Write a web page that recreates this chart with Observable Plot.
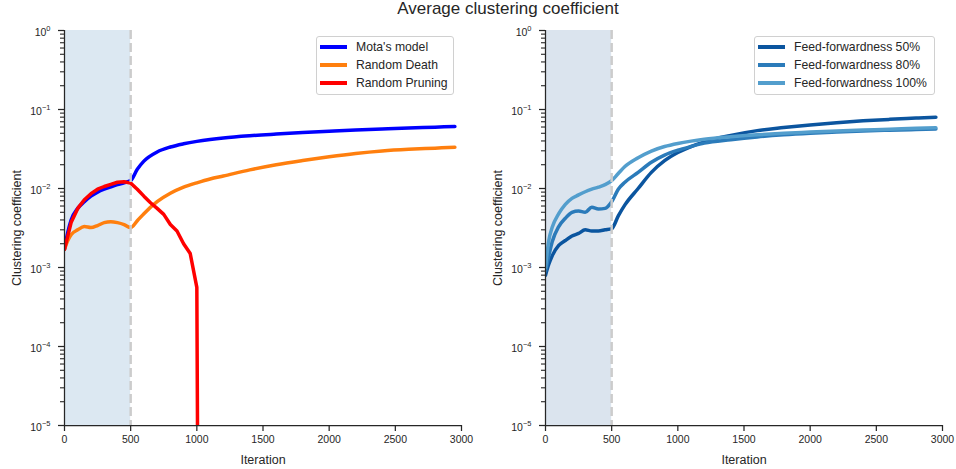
<!DOCTYPE html>
<html>
<head>
<meta charset="utf-8">
<script src="https://cdn.jsdelivr.net/npm/d3@7"></script>
<script src="https://cdn.jsdelivr.net/npm/@observablehq/plot@0.6"></script>
<style>
  html, body { margin: 0; padding: 0; background: #fff; overflow: hidden; }
  body { font-family: "Liberation Sans", Arial, sans-serif; color: #262626; }
  #wrap { position: relative; width: 956px; height: 469px; }
  #title { position: absolute; left: 258px; top: -1px; width: 500px; text-align: center; font-size: 17px; line-height: 20px; }
  #row { position: absolute; left: 0; top: 20px; display: flex; }
  .legend { position: absolute; top: 36px; height: 56px; padding-top: 1px; border: 1px solid #d0d0d0; border-radius: 3px; background: rgba(255,255,255,0.85); box-sizing: content-box; }
  .legend .item { height: 18px; display: flex; align-items: center; font-size: 12.2px; white-space: nowrap; }
  .legend .swatch { width: 27px; height: 3.5px; margin-left: 3px; margin-right: 9px; }
</style>
</head>
<body>
<div id="wrap">
  <div id="title">Average clustering coefficient</div>
  <div id="row"></div>
</div>
<script>
// ---------- data ----------
const titleText = "Average clustering coefficient";
const xLabel = "Iteration";
const yLabel = "Clustering coefficient";
const xDomain = [0, 3000];
const yDomain = [1e-5, 1];
const xTicks = [0, 500, 1000, 1500, 2000, 2500, 3000];
const yMajorTicks = [1e-5, 1e-4, 1e-3, 1e-2, 1e-1, 1];
const trainingPhase = [0, 500];

const iters = [0, 25, 50, 100, 150, 200, 250, 300, 350, 400, 450, 500, 550, 600, 700, 800, 900, 1000, 1100, 1200, 1400, 1600, 1800, 2000, 2200, 2400, 2600, 2800, 2950];

// left panel
const leftNames = ["Mota's model", "Random Death", "Random Pruning"];
const leftColors = ["#0000ff", "#ff7f0e", "#ff0000"];
const motaModel = [0.0017, 0.0028, 0.0040, 0.0056, 0.0068, 0.0080, 0.0090, 0.0098, 0.0105, 0.0112, 0.0118, 0.0126, 0.0175, 0.0222, 0.0290, 0.0335, 0.0368, 0.0395, 0.0417, 0.0436, 0.0465, 0.0488, 0.0510, 0.0530, 0.0550, 0.0568, 0.0585, 0.0598, 0.0610];
const randomDeath = [0.0017, 0.0022, 0.0026, 0.0030, 0.0033, 0.0032, 0.0034, 0.0037, 0.0038, 0.0037, 0.0035, 0.0032, 0.0039, 0.0048, 0.0068, 0.0087, 0.0104, 0.0118, 0.0132, 0.0144, 0.0172, 0.0200, 0.0226, 0.0252, 0.0277, 0.0298, 0.0313, 0.0324, 0.0333];
const pruneIters = [0, 50, 100, 150, 200, 250, 300, 350, 400, 450, 500, 550, 600, 650, 700, 750, 800, 850, 900, 950, 1000, 1005];
const randomPruning = [0.0017, 0.0037, 0.0056, 0.0072, 0.0086, 0.0098, 0.0106, 0.0113, 0.0120, 0.0122, 0.0117, 0.0098, 0.0080, 0.0066, 0.0056, 0.0047, 0.0035, 0.0029, 0.0020, 0.0015, 0.00056, 0];

// right panel
const rightNames = ["Feed-forwardness 50%", "Feed-forwardness 80%", "Feed-forwardness 100%"];
const rightColors = ["#0b559f", "#2b7bba", "#539ecd"];
const ff50 = [0.0008, 0.0011, 0.0014, 0.0019, 0.0022, 0.0025, 0.0027, 0.0030, 0.0029, 0.0029, 0.0030, 0.0031, 0.0045, 0.0062, 0.0100, 0.0160, 0.0225, 0.0285, 0.0340, 0.0390, 0.0470, 0.0540, 0.0590, 0.0638, 0.0680, 0.0718, 0.0750, 0.0778, 0.0800];
const ff80 = [0.0009, 0.0014, 0.0021, 0.0033, 0.0042, 0.0050, 0.0052, 0.0050, 0.0058, 0.0055, 0.0056, 0.0068, 0.0098, 0.0120, 0.0160, 0.0215, 0.0265, 0.0305, 0.0340, 0.0375, 0.0415, 0.0450, 0.0478, 0.0500, 0.0518, 0.0535, 0.0548, 0.0558, 0.0565];
const ff100 = [0.0010, 0.0022, 0.0032, 0.0048, 0.0063, 0.0075, 0.0083, 0.0091, 0.0098, 0.0104, 0.0112, 0.0126, 0.0155, 0.0190, 0.0245, 0.0298, 0.0340, 0.0372, 0.0398, 0.0420, 0.0452, 0.0478, 0.0500, 0.0518, 0.0535, 0.0550, 0.0563, 0.0577, 0.0587];

// ---------- build ----------
const ink = "#262626";
const font = "'Liberation Sans', Arial, sans-serif";
const yMinorTicks = yMajorTicks.slice(0, -1).flatMap(t => [2, 3, 4, 5, 6, 7, 8, 9].map(m => m * t));

function rows(name, xs, ys) { return xs.map((x, i) => ({name, x, y: ys[i]})); }

function panel({series, names, colors, shade, marginLeft, marginRight}) {
  const lineMarks = series.map(s => Plot.line(rows(s.name, s.x, s.y), {
    x: "x", y: d => Math.max(d.y, yDomain[0]), stroke: "name",
    strokeWidth: 3.5, curve: s.curve, clip: true, strokeLinejoin: "round"
  }));
  const svg = Plot.plot({
    width: 478, height: 449,
    marginTop: 10, marginBottom: 44, marginLeft, marginRight,
    style: {fontFamily: font, fontSize: "10.5px", color: ink, background: "transparent", overflow: "visible"},
    x: {domain: xDomain},
    y: {type: "log", domain: yDomain},
    color: {domain: names, range: colors},
    marks: [
      Plot.rect([trainingPhase], {x1: d => d[0], x2: d => d[1], fill: shade}),
      ...lineMarks,
      Plot.ruleX([trainingPhase[1]], {stroke: "#cccccc", strokeWidth: 2.5, strokeDasharray: "9,4"}),
      Plot.axisX({ticks: xTicks, tickSize: 6, tickPadding: 4, stroke: ink, strokeWidth: 1.25, tickFormat: d => String(d),
        label: xLabel, labelAnchor: "center", labelArrow: "none", labelOffset: 38}),
      Plot.axisY(yMinorTicks, {tickSize: 4, stroke: ink, strokeWidth: 1.1, tickFormat: () => "", label: null}),
      Plot.axisY({ticks: yMajorTicks, tickSize: 6, tickPadding: 8, stroke: ink, strokeWidth: 1.25,
        tickFormat: d => "10^" + Math.round(Math.log10(d)),
        label: yLabel, labelAnchor: "center", labelArrow: "none", labelOffset: 52}),
      Plot.ruleX([xDomain[0]], {stroke: ink, strokeWidth: 1.25}),
      Plot.ruleY([yDomain[0]], {stroke: ink, strokeWidth: 1.25})
    ]
  });
  // axis label font sizes
  svg.querySelectorAll('[aria-label="x-axis label"], [aria-label="y-axis label"]').forEach(g => g.setAttribute("font-size", "12.5"));
  svg.querySelectorAll('[aria-label="x-axis label"] text, [aria-label="y-axis label"] text').forEach(t => t.setAttribute("font-size", "12.5"));
  // superscript exponents on log ticks
  svg.querySelectorAll('[aria-label="y-axis tick label"] text').forEach(t => {
    const s = t.textContent;
    if (!s || s.indexOf("^") < 0) return;
    const exp = s.split("^")[1].replace("-", "\u2212");
    t.textContent = "";
    const ns = "http://www.w3.org/2000/svg";
    const base = document.createElementNS(ns, "tspan");
    base.setAttribute("dy", "2.4");
    base.textContent = "10";
    const sup = document.createElementNS(ns, "tspan");
    sup.setAttribute("dy", "-5");
    sup.setAttribute("font-size", "7.5");
    sup.textContent = exp;
    t.appendChild(base);
    t.appendChild(sup);
  });
  return svg;
}

const row = document.getElementById("row");
document.getElementById("title").textContent = titleText;

row.appendChild(panel({
  names: leftNames, colors: leftColors, shade: "#dce8f2", marginLeft: 64, marginRight: 17,
  series: [
    {name: leftNames[0], x: iters, y: motaModel, curve: "monotone-x"},
    {name: leftNames[1], x: iters, y: randomDeath, curve: "monotone-x"},
    {name: leftNames[2], x: pruneIters, y: randomPruning, curve: "linear"}
  ]
}));
row.appendChild(panel({
  names: rightNames, colors: rightColors, shade: "#dbe4ee", marginLeft: 67, marginRight: 14,
  series: [
    {name: rightNames[0], x: iters, y: ff50, curve: "monotone-x"},
    {name: rightNames[1], x: iters, y: ff80, curve: "monotone-x"},
    {name: rightNames[2], x: iters, y: ff100, curve: "monotone-x"}
  ]
}));

function legend(names, colors, left, width) {
  const box = document.createElement("div");
  box.className = "legend";
  box.style.left = left + "px";
  box.style.width = width + "px";
  names.forEach((n, i) => {
    const item = document.createElement("div");
    item.className = "item";
    const sw = document.createElement("span");
    sw.className = "swatch";
    sw.style.background = colors[i];
    const tx = document.createElement("span");
    tx.textContent = n;
    item.appendChild(sw);
    item.appendChild(tx);
    box.appendChild(item);
  });
  document.getElementById("wrap").appendChild(box);
}
legend(leftNames, leftColors, 316, 136);
legend(rightNames, rightColors, 754, 179);
</script>
</body>
</html>
